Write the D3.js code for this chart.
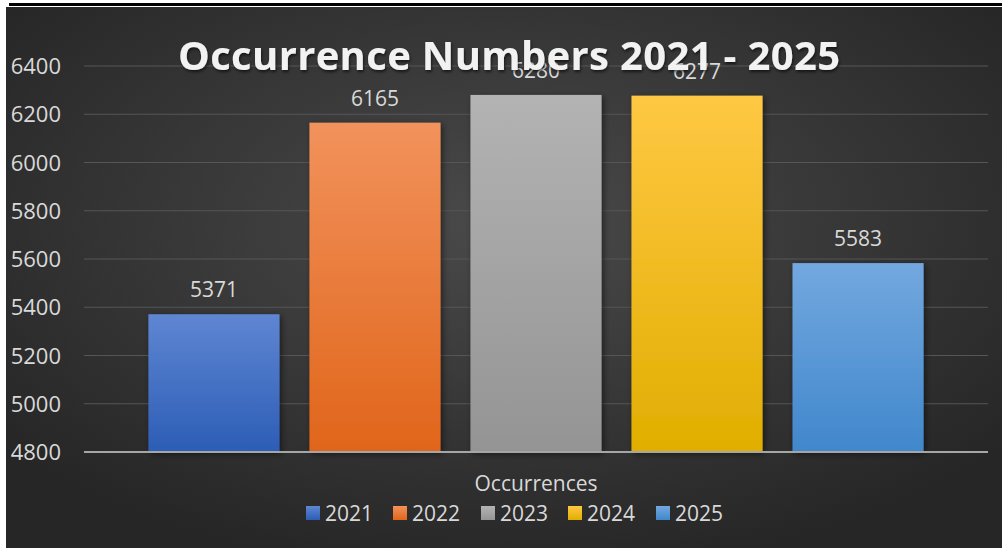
<!DOCTYPE html>
<html>
<head>
<meta charset="utf-8">
<script src="https://cdn.jsdelivr.net/npm/d3@7"></script>
<style>
  body { margin: 0; background: #fff; }
  svg { display: block; }
  text { font-family: "Open Sans", "DejaVu Sans", sans-serif; }
</style>
</head>
<body>
<div id="main"></div>
<script>
var years = ['2021', '2022', '2023', '2024', '2025'];
var values = [5371, 6165, 6280, 6277, 5583];
var ticks = [4800, 5000, 5200, 5400, 5600, 5800, 6000, 6200, 6400];
var topColors = ['#5f86d2', '#f2925c', '#b3b3b3', '#ffc843', '#73a8df'];
var bottomColors = ['#2c5db6', '#e0651a', '#949494', '#e0ae00', '#4187cc'];

var width = 1002,
    height = 548;

var svg = d3.select("#main").append("svg")
    .attr("width", width)
    .attr("height", height);

var defs = svg.append("defs");

// background radial shading
var bg = defs.append("radialGradient")
    .attr("id", "bg")
    .attr("cx", "50%").attr("cy", "40%").attr("r", "65%");
bg.append("stop").attr("offset", "0%").attr("stop-color", "#4a4a4a");
bg.append("stop").attr("offset", "100%").attr("stop-color", "#262626");

years.forEach(function(y, i) {
  var g = defs.append("linearGradient")
      .attr("id", "bar" + i)
      .attr("x1", 0).attr("y1", 0).attr("x2", 0).attr("y2", 1);
  g.append("stop").attr("offset", "0%").attr("stop-color", topColors[i]);
  g.append("stop").attr("offset", "100%").attr("stop-color", bottomColors[i]);
});

var shadow = defs.append("filter").attr("id", "shadow")
    .attr("x", "-20%").attr("y", "-20%").attr("width", "140%").attr("height", "140%");
shadow.append("feDropShadow")
    .attr("dx", 2).attr("dy", 2).attr("stdDeviation", 3)
    .attr("flood-color", "#000").attr("flood-opacity", 0.5);

var tshadow = defs.append("filter").attr("id", "tshadow");
tshadow.append("feDropShadow")
    .attr("dx", 1).attr("dy", 2).attr("stdDeviation", 1.5)
    .attr("flood-color", "#000").attr("flood-opacity", 0.6);

// frame
svg.append("rect")
    .attr("x", 6).attr("y", 7)
    .attr("width", width - 6).attr("height", height - 7)
    .attr("fill", "url(#bg)");
svg.append("rect")
    .attr("x", 9).attr("y", 3)
    .attr("width", width - 9).attr("height", 3)
    .attr("fill", "#000");

var y = d3.scaleLinear()
    .domain([4800, 6400])
    .range([452, 66]);

var x = d3.scaleBand()
    .domain(years)
    .range([84, 988])
    .paddingInner(0.186)
    .paddingOuter(0.40);

// gridlines
svg.append("g")
  .selectAll("line")
  .data(ticks.slice(1))
  .enter().append("line")
    .attr("x1", 84).attr("x2", 988)
    .attr("y1", function(d) { return y(d); })
    .attr("y2", function(d) { return y(d); })
    .attr("stroke", "#565656")
    .attr("stroke-width", 1);

// y axis labels
var yAxis = d3.axisLeft(y)
    .tickValues(ticks)
    .tickFormat(d3.format("d"))
    .tickSize(0)
    .tickPadding(0);
var ya = svg.append("g")
    .attr("transform", "translate(61,0)")
    .call(yAxis);
ya.select(".domain").remove();
ya.selectAll("text")
    .attr("fill", "#d9d9d9")
    .style("font-size", "22px")
    .attr("dy", "0.35em");

// bars
svg.append("g")
  .selectAll("rect")
  .data(values)
  .enter().append("rect")
    .attr("x", function(d, i) { return x(years[i]); })
    .attr("y", function(d) { return y(d); })
    .attr("width", x.bandwidth())
    .attr("height", function(d) { return y(4800) - y(d); })
    .attr("fill", function(d, i) { return "url(#bar" + i + ")"; })
    .attr("filter", "url(#shadow)");

// base axis line
svg.append("line")
    .attr("x1", 84).attr("x2", 988)
    .attr("y1", y(4800)).attr("y2", y(4800))
    .attr("stroke", "#a6a6a6")
    .attr("stroke-width", 2);

// value labels
svg.append("g")
  .selectAll("text")
  .data(values)
  .enter().append("text")
    .attr("x", function(d, i) { return x(years[i]) + x.bandwidth() / 2; })
    .attr("y", function(d) { return y(d) - 17; })
    .attr("text-anchor", "middle")
    .attr("fill", "#d9d9d9")
    .style("font-size", "21px")
    .text(function(d) { return d; });

// title
svg.append("text")
    .attr("x", 509)
    .attr("y", 70)
    .attr("text-anchor", "middle")
    .attr("fill", "#f2f2f2")
    .attr("filter", "url(#tshadow)")
    .attr("textLength", 662)
    .attr("lengthAdjust", "spacing")
    .style("font-size", "40px")
    .style("font-weight", "bold")
    .text("Occurrence Numbers 2021 - 2025");

// axis title
svg.append("text")
    .attr("x", 536)
    .attr("y", 491)
    .attr("text-anchor", "middle")
    .attr("fill", "#d9d9d9")
    .style("font-size", "21px")
    .text("Occurrences");

// legend
var legendX = [306, 393, 481, 568, 656];
var legend = svg.append("g")
  .selectAll("g")
  .data(years)
  .enter().append("g")
    .attr("transform", function(d, i) { return "translate(" + legendX[i] + ",506)"; });
legend.append("rect")
    .attr("width", 14).attr("height", 14)
    .attr("fill", function(d, i) { return "url(#bar" + i + ")"; });
legend.append("text")
    .attr("x", 19)
    .attr("y", 15)
    .attr("fill", "#d9d9d9")
    .style("font-size", "21px")
    .text(function(d) { return d; });
</script>
</body>
</html>
